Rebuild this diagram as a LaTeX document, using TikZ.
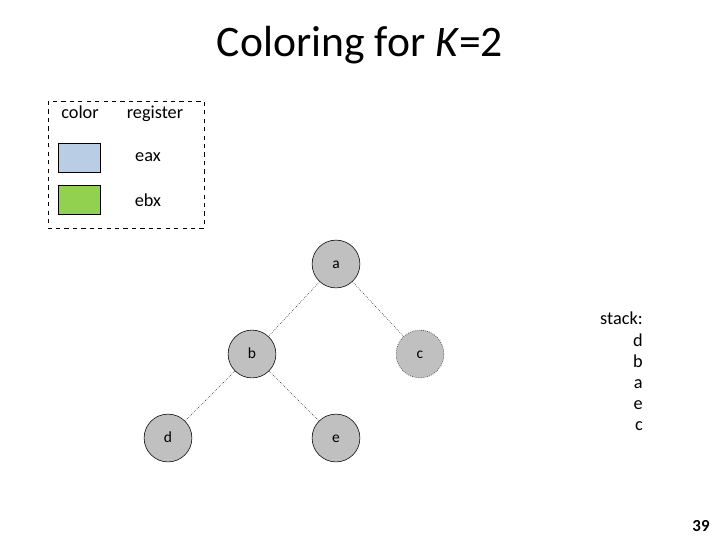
\documentclass[tikz,border=0pt]{standalone}
\usepackage{fontspec}
\setmainfont{Carlito}
\usepackage{xcolor}
\usetikzlibrary{positioning}
\definecolor{eaxblue}{RGB}{185,205,228}
\definecolor{ebxgreen}{RGB}{146,208,80}
\definecolor{nodegray}{RGB}{192,192,192}

\begin{document}
\begin{tikzpicture}[x=0.025cm, y=-0.025cm,
  vert/.style={circle, draw, fill=nodegray, minimum size=34pt, inner sep=0pt,
    text height=1.45ex, text depth=0.2ex, font=\fontsize{11}{13}\selectfont},
  edge/.style={densely dotted, thin},
  swatch/.style={draw, minimum width=30pt, minimum height=21pt, inner sep=0pt},
  lab/.style={font=\fontsize{13}{15}\selectfont, anchor=base}]
  \useasboundingbox (0,0) rectangle (720,540);
  \node[font=\fontsize{31}{35}\selectfont, anchor=base] (title) at (360,56) {Coloring for \textit{K}=2};
  % legend
  \draw[dashed] (48,101) rectangle (204,228);
  \node[lab] (hcol) at (80,118) {color};
  \node[lab] (hreg) at (155,118) {register};
  \node[swatch, fill=eaxblue] (s1) at (79,158) {};
  \node[swatch, fill=ebxgreen] (s2) at (79,200) {};
  \node[lab] (r1) at (148,161) {eax};
  \node[lab] (r2) at (148,206) {ebx};
  % interference graph
  \node[vert] (a) at (336,264) {a};
  \node[vert] (b) at (252,354) {b};
  \node[vert, densely dotted] (c) at (420,354) {c};
  \node[vert] (d) at (168,438) {d};
  \node[vert] (e) at (336,438) {e};
  \draw[edge] (a) -- (b);
  \draw[edge] (a) -- (c);
  \draw[edge] (b) -- (d);
  \draw[edge] (b) -- (e);
  % stack
  \node[font=\fontsize{13}{15}\selectfont, align=right, anchor=north east, inner sep=0pt] (stack) at (643,312)
    {stack:\\d\\b\\a\\e\\c};
  \node[font=\bfseries\fontsize{12}{14}\selectfont] (pg) at (701,526) {39};
\end{tikzpicture}
\end{document}
